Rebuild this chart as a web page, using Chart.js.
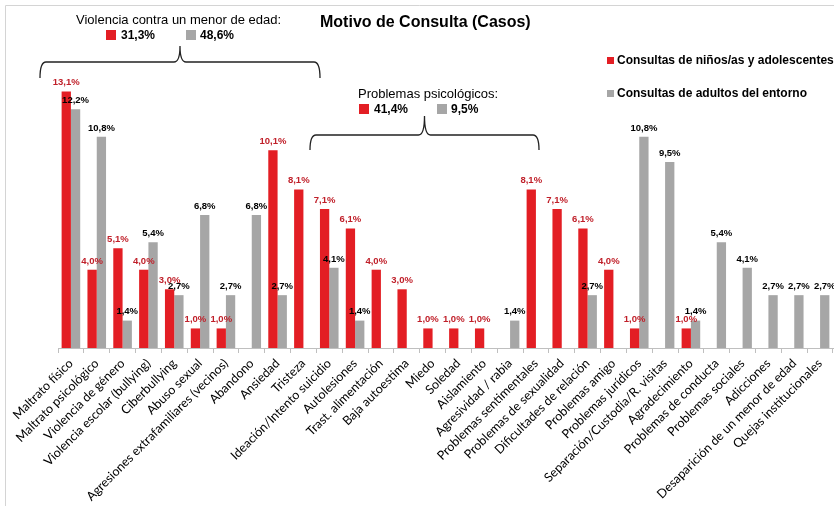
<!DOCTYPE html>
<html>
<head>
<meta charset="utf-8">
<script src="https://cdn.jsdelivr.net/npm/chart.js@4/dist/chart.umd.min.js"></script>
<style>
  html, body { margin: 0; padding: 0; background: #fff; }
  #wrap { width: 834px; height: 506px; position: relative; }
</style>
</head>
<body>
<div id="wrap"><canvas id="grafico"></canvas></div>
<script>
// Categorías (motivo de consulta)
const categorias = [
    'Maltrato físico', 'Maltrato psicológico', 'Violencia de género', 'Violencia escolar (bullying)',
    'Ciberbullying', 'Abuso sexual', 'Agresiones extrafamiliares (vecinos)', 'Abandono',
    'Ansiedad', 'Tristeza', 'Ideación/Intento suicidio', 'Autolesiones', 'Trast. alimentación',
    'Baja autoestima', 'Miedo', 'Soledad', 'Aislamiento', 'Agresividad / rabia',
    'Problemas sentimentales', 'Problemas de sexualidad', 'Dificultades de relación',
    'Problemas amigo', 'Problemas jurídicos', 'Separación/Custodia/R. visitas', 'Agradecimiento',
    'Problemas de conducta', 'Problemas sociales', 'Adicciones',
    'Desaparición de un menor de edad', 'Quejas institucionales'
];

// Porcentajes por serie (null = sin casos)
const consultasNinos = [
    13.1, 4.0, 5.1, 4.0, 3.0, 1.0, 1.0, null,
    10.1, 8.1, 7.1, 6.1, 4.0, 3.0, 1.0, 1.0, 1.0, null,
    8.1, 7.1, 6.1, 4.0, 1.0, null, 1.0,
    null, null, null, null, null
];
const consultasAdultos = [
    12.2, 10.8, 1.4, 5.4, 2.7, 6.8, 2.7, 6.8,
    2.7, null, 4.1, 1.4, null, null, null, null, null, 1.4,
    null, null, 2.7, null, 10.8, 9.5, 1.4,
    5.4, 4.1, 2.7, 2.7, 2.7
];

const nombresSeries = ['Consultas de niños/as y adolescentes', 'Consultas de adultos del entorno'];

// Totales de los grupos marcados con llave
const gruposTitulos = ['Violencia contra un menor de edad:', 'Problemas psicológicos:'];
const gruposNinos = ['31,3%', '41,4%'];
const gruposAdultos = ['48,6%', '9,5%'];

const ROJO = '#e31e24';
const GRIS = '#a6a6a6';

function formatoPct(v) {
    return v.toFixed(1).replace('.', ',') + '%';
}

// Dibuja una llave horizontal con la punta hacia arriba
function dibujarLlave(ctx, x1, x2, yPunta, yLinea, yBase) {
    const cx = (x1 + x2) / 2;
    const r = 6;
    ctx.beginPath();
    ctx.moveTo(x1, yBase);
    ctx.quadraticCurveTo(x1, yLinea, x1 + r, yLinea);
    ctx.lineTo(cx - r, yLinea);
    ctx.quadraticCurveTo(cx, yLinea, cx, yPunta);
    ctx.quadraticCurveTo(cx, yLinea, cx + r, yLinea);
    ctx.lineTo(x2 - r, yLinea);
    ctx.quadraticCurveTo(x2, yLinea, x2, yBase);
    ctx.stroke();
}

function dibujarGrupo(ctx, i, xTexto, yTexto, xRojo, xGris, yFila) {
    ctx.fillStyle = '#000';
    ctx.font = '13px "Liberation Sans", Arial, sans-serif';
    ctx.textAlign = 'left';
    ctx.textBaseline = 'middle';
    ctx.fillText(gruposTitulos[i], xTexto, yTexto);
    ctx.fillStyle = ROJO;
    ctx.fillRect(xRojo, yFila - 5, 10, 10);
    ctx.fillStyle = GRIS;
    ctx.fillRect(xGris, yFila - 5, 10, 10);
    ctx.fillStyle = '#000';
    ctx.font = 'bold 12px "Liberation Sans", Arial, sans-serif';
    ctx.fillText(gruposNinos[i], xRojo + 15, yFila + 1);
    ctx.fillText(gruposAdultos[i], xGris + 14, yFila + 1);
}

// Plugin: marco, título, leyenda, llaves y etiquetas de datos
const decoracion = {
    id: 'decoracion',
    afterDatasetsDraw(chart) {
        const ctx = chart.ctx;
        ctx.save();

        // etiquetas de valor sobre las barras
        ctx.font = 'bold 9.5px "Liberation Sans", Arial, sans-serif';
        ctx.textAlign = 'center';
        ctx.textBaseline = 'bottom';
        chart.data.datasets.forEach((ds, di) => {
            const meta = chart.getDatasetMeta(di);
            meta.data.forEach((bar, j) => {
                const v = ds.data[j];
                if (v === null) return;
                ctx.fillStyle = di === 0 ? '#c0202a' : '#000';
                ctx.fillText(formatoPct(v), bar.x, bar.y - 4);
            });
        });

        // marco superior e izquierdo
        ctx.strokeStyle = '#d4d4d4';
        ctx.lineWidth = 1;
        ctx.beginPath();
        ctx.moveTo(5.5, 506);
        ctx.lineTo(5.5, 5.5);
        ctx.lineTo(834, 5.5);
        ctx.stroke();

        // título
        ctx.fillStyle = '#000';
        ctx.font = 'bold 16px "Liberation Sans", Arial, sans-serif';
        ctx.textAlign = 'left';
        ctx.textBaseline = 'middle';
        ctx.fillText('Motivo de Consulta (Casos)', 320, 23);

        // leyenda
        ctx.font = 'bold 12px "Liberation Sans", Arial, sans-serif';
        [ROJO, GRIS].forEach((c, k) => {
            const y = 60 + k * 33;
            ctx.fillStyle = c;
            ctx.fillRect(607, y - 3, 7, 7);
            ctx.fillStyle = '#000';
            ctx.fillText(nombresSeries[k], 617, y + 1);
        });

        // grupos con llave
        dibujarGrupo(ctx, 0, 76, 20, 106, 186, 35);
        dibujarGrupo(ctx, 1, 358, 94, 359, 437, 109);
        ctx.strokeStyle = '#222';
        ctx.lineWidth = 1.3;
        dibujarLlave(ctx, 40, 320, 46, 62, 78);
        dibujarLlave(ctx, 310, 539, 116, 135, 150);

        ctx.restore();
    }
};

new Chart(document.getElementById('grafico'), {
    type: 'bar',
    data: {
        labels: categorias,
        datasets: [
            { label: nombresSeries[0], data: consultasNinos, backgroundColor: ROJO },
            { label: nombresSeries[1], data: consultasAdultos, backgroundColor: GRIS }
        ]
    },
    options: {
        responsive: true,
        maintainAspectRatio: false,
        animation: false,
        devicePixelRatio: 1,
        layout: { padding: { left: 58, right: 1, top: 74, bottom: 0 } },
        datasets: {
            bar: { categoryPercentage: 0.72, barPercentage: 1.0 }
        },
        plugins: {
            legend: { display: false },
            tooltip: { enabled: false }
        },
        scales: {
            x: {
                grid: {
                    offset: true,
                    drawOnChartArea: false,
                    tickLength: 5,
                    color: '#bfbfbf'
                },
                border: { color: '#bfbfbf' },
                ticks: {
                    autoSkip: false,
                    maxRotation: 45,
                    minRotation: 45,
                    padding: 3,
                    color: '#000',
                    font: { family: 'Lato', size: 12.5 }
                },
                afterFit(scale) { scale.height = 158; }
            },
            y: {
                display: false,
                min: 0,
                max: 14
            }
        }
    },
    plugins: [decoracion]
});
</script>
</body>
</html>
